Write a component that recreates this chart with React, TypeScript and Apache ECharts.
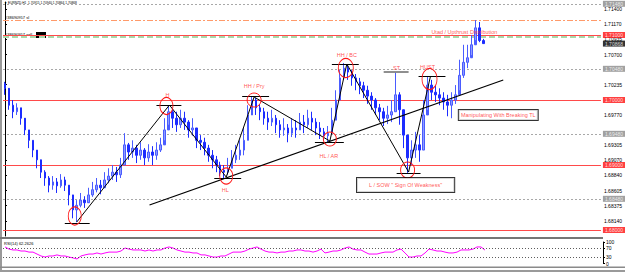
import React, { useEffect, useRef } from "react";
import * as echarts from "echarts";

// ---------- DATA ----------
const symbolHeader = "▼ EURNZD,H1  1.70915 1.70940 1.70864 1.70868";
const rsiHeader = "RSI(14) 62.2626";
const slotCount = 150;
const firstOpen = 1.7025;

const closes = [
  1.7018, 1.6992, 1.6982, 1.6988, 1.6972, 1.6954, 1.6938, 1.6923, 1.6908, 1.6889,
  1.6880, 1.6869, 1.6874, 1.6868, 1.6877, 1.6869, 1.6854, 1.6831, 1.6838, 1.6846,
  1.6842, 1.6854, 1.6862, 1.6869, 1.6865, 1.6877, 1.6883, 1.6889, 1.6885, 1.6900,
  1.6931, 1.6920, 1.6926, 1.6915, 1.6923, 1.6911, 1.6920, 1.6915, 1.6923, 1.6931,
  1.6954, 1.6982, 1.6972, 1.6962, 1.6972, 1.6966, 1.6954, 1.6957, 1.6938, 1.6935,
  1.6926, 1.6915, 1.6908, 1.6900, 1.6892, 1.6889, 1.6895, 1.6908, 1.6915, 1.6923,
  1.6938, 1.6977, 1.7000, 1.6988, 1.6982, 1.6972, 1.6966, 1.6972, 1.6962, 1.6954,
  1.6957, 1.6949, 1.6957, 1.6954, 1.6966, 1.6962, 1.6972, 1.6966, 1.6957, 1.6951,
  1.6945, 1.6949, 1.6969, 1.7000, 1.7034, 1.7049, 1.7043, 1.7034, 1.7028, 1.7022,
  1.7015, 1.7006, 1.7000, 1.6988, 1.6982, 1.6972, 1.6977, 1.6982, 1.7008, 1.6985,
  1.6946, 1.6911, 1.6923, 1.6931, 1.6923, 1.6977, 1.7023, 1.7012, 1.7008, 1.7003,
  1.6997, 1.6992, 1.7000, 1.7008, 1.7038, 1.7058, 1.7065, 1.7085, 1.7111, 1.70915,
  1.70868,
];
const highs = [
  1.7028, 1.7008, 1.7000, 1.6995, 1.6988, 1.6969, 1.6954, 1.6938, 1.6923, 1.6905,
  1.6892, 1.6883, 1.6883, 1.6880, 1.6886, 1.6882, 1.6869, 1.6849, 1.6846, 1.6857,
  1.6852, 1.6865, 1.6874, 1.6880, 1.6877, 1.6889, 1.6895, 1.6900, 1.6897, 1.6911,
  1.6949, 1.6934, 1.6938, 1.6931, 1.6935, 1.6926, 1.6932, 1.6929, 1.6935, 1.6942,
  1.6972, 1.6992, 1.6988, 1.6982, 1.6985, 1.6982, 1.6969, 1.6972, 1.6954, 1.6946,
  1.6942, 1.6931, 1.6923, 1.6914, 1.6905, 1.6900, 1.6911, 1.6923, 1.6931, 1.6938,
  1.6957, 1.6992, 1.7006, 1.7003, 1.6994, 1.6988, 1.6982, 1.6985, 1.6977, 1.6969,
  1.6972, 1.6963, 1.6972, 1.6969, 1.6980, 1.6977, 1.6985, 1.6982, 1.6972, 1.6966,
  1.6957, 1.6960, 1.6988, 1.7015, 1.7046, 1.7057, 1.7054, 1.7046, 1.7040, 1.7034,
  1.7028, 1.7022, 1.7012, 1.7003, 1.6994, 1.6988, 1.6991, 1.7000, 1.7042, 1.7012,
  1.6982, 1.6938, 1.6938, 1.6951, 1.6946, 1.7000, 1.7037, 1.7031, 1.7022, 1.7018,
  1.7012, 1.7008, 1.7012, 1.7023, 1.7062, 1.7085, 1.7085, 1.7100, 1.7123, 1.7120,
  1.7094,
];
const lows = [
  1.7008, 1.6985, 1.6972, 1.6977, 1.6962, 1.6946, 1.6926, 1.6912, 1.6895, 1.6880,
  1.6868, 1.6858, 1.6862, 1.6857, 1.6865, 1.6860, 1.6838, 1.6818, 1.6812, 1.6835,
  1.6834, 1.6843, 1.6851, 1.6858, 1.6855, 1.6866, 1.6872, 1.6877, 1.6874, 1.6880,
  1.6900, 1.6908, 1.6911, 1.6903, 1.6908, 1.6900, 1.6905, 1.6900, 1.6908, 1.6920,
  1.6938, 1.6962, 1.6957, 1.6951, 1.6957, 1.6954, 1.6942, 1.6945, 1.6926, 1.6923,
  1.6915, 1.6905, 1.6895, 1.6889, 1.6883, 1.6880, 1.6885, 1.6895, 1.6903, 1.6908,
  1.6915, 1.6938, 1.6982, 1.6977, 1.6969, 1.6962, 1.6954, 1.6960, 1.6949, 1.6942,
  1.6945, 1.6935, 1.6943, 1.6942, 1.6954, 1.6949, 1.6957, 1.6954, 1.6946, 1.6940,
  1.6937, 1.6935, 1.6946, 1.6977, 1.7008, 1.7031, 1.7031, 1.7022, 1.7015, 1.7009,
  1.7003, 1.6994, 1.6985, 1.6977, 1.6969, 1.6960, 1.6963, 1.6966, 1.6982, 1.6962,
  1.6926, 1.6888, 1.6900, 1.6911, 1.6905, 1.6923, 1.6985, 1.7000, 1.6997, 1.6992,
  1.6985, 1.6975, 1.6972, 1.6994, 1.7015, 1.7034, 1.7049, 1.7069, 1.7092, 1.7089,
  1.70864,
];
const rsiValues = [
  77, 67, 63, 63, 58, 58, 53, 53, 44, 35,
  30, 35, 35, 40, 35, 35, 30, 26, 21, 35,
  40, 44, 44, 49, 44, 49, 53, 53, 53, 58,
  72, 67, 63, 63, 63, 58, 63, 58, 63, 63,
  72, 77, 72, 63, 58, 53, 53, 49, 49, 40,
  40, 35, 30, 30, 35, 35, 44, 53, 53, 53,
  58, 67, 72, 77, 67, 58, 53, 53, 49, 53,
  53, 58, 58, 63, 63, 58, 58, 53, 58, 67,
  49, 53, 58, 58, 63, 72, 77, 67, 63, 63,
  53, 44, 44, 44, 49, 53, 53, 53, 63, 67,
  49, 30, 30, 35, 35, 49, 67, 63, 58, 58,
  53, 49, 49, 53, 63, 63, 63, 67, 77, 77,
  62.26,
];

const priceMin = 1.67908;
const priceMax = 1.71508;
const priceTicks = [
  1.714, 1.7117, 1.70935, 1.707, 1.70235, 1.6977,
  1.69305, 1.6907, 1.6884, 1.68605, 1.68375, 1.6814, 1.67905,
];
const rsiTicks = [0, 30, 70, 100];
const rsiLevels = [70, 30];

const roundLevels = [1.71, 1.7, 1.69, 1.68];
const gridLevels = [1.7148, 1.7048, 1.6948, 1.6848];
const stopLossLevel = 1.71231;
const sellLevel = 1.70974;
const lastPrice = 1.70868;
const orderLabels = ["#38690957 sl", "#38690957 sell"];

// annotations: [bar index, price]
const zigzag = [
  [18, 1.68123], [41.25, 1.69923], [55.5, 1.68815], [62.5, 1.70046],
  [81.5, 1.69369], [85.75, 1.70554], [101.25, 1.68892], [106.75, 1.70369],
];
const trendLine = [[36.25, 1.68385], [125, 1.70308]];
const pivotFrom = [15, 38, 52.5, 59.5, 77.75, 82, 95, 98.25, 103.75];
const pivotTo = [21.25, 44.25, 59.25, 66.25, 85, 88.75, 101.25, 104.25, 110.5];
const pivotPrice = [1.6811, 1.6992, 1.688, 1.7006, 1.6935, 1.7055, 1.7043, 1.6888, 1.7037];
const ringX = [17.5, 40.5, 55.5, 62.5, 81.5, 85.5, 101, 106.5];
const ringPrice = [1.68215, 1.69908, 1.68831, 1.7, 1.694, 1.70492, 1.68923, 1.70323];
const tagText = ["H", "HL", "HH / Pry", "HL / AR", "HH / BC", "ST", "HUST", "Utad / Upthrust Distribution"];
const tagX = [40.75, 55.25, 62.5, 81.25, 85.75, 98.25, 106, 115.25];
const tagPrice = [1.70077, 1.68615, 1.70215, 1.69138, 1.70692, 1.70492, 1.70508, 1.71046];
const boxText = ["Manipulating With Breaking TL", 'L / SOW " Sign Of Weakness"'];
const boxX = [123.75, 100.5];
const boxPrice = [1.69769, 1.68692];

export default function App() {
  const ref = useRef<HTMLDivElement>(null);
  useEffect(() => {
    const chart = echarts.init(ref.current!, null, { renderer: "svg" });
    const font = "Liberation Sans";
    const red = "#ff1f1f";
    const xLeft = -0.5;
    const xRight = slotCount - 0.5;
    const slots = Array.from({ length: slotCount }, (_, i) => String(i));
    const candles = closes.map((c, i) => [i === 0 ? firstOpen : closes[i - 1], c, lows[i], highs[i]]);
    const ringSizes = [[13, 18], [13, 17], [13, 16], [14, 14], [13, 14], [15, 19], [14, 16], [15, 21]];
    const boxPad = [[2, 2], [4, 12]];

    const hLine = (v: number, lineStyle: any) => ({ coords: [[xLeft, v], [xRight, v]], lineStyle });
    const levelLines = [
      ...gridLevels.map((v) => hLine(v, { color: "#a8a8a8", width: 1, type: [2, 2] })),
      hLine(stopLossLevel, { color: "#ff9a6a", width: 1, type: [6, 2, 2, 2] }),
      hLine(sellLevel, { color: "#a9d8a9", width: 2, type: [6, 3] }),
      ...roundLevels.map((v) => hLine(v, { color: "#ff4a4a", width: 1, type: "solid" })),
    ];
    const priceBox = (v: number, bg: string) => ({
      value: [xRight, v],
      label: { backgroundColor: bg, formatter: v.toFixed(5) },
    });
    const priceBoxes = [
      ...gridLevels.map((v) => priceBox(v, "#8a8a8a")),
      ...roundLevels.map((v) => priceBox(v, "#ff1010")),
      priceBox(lastPrice, "#000"),
    ];

    const option: any = {
      animation: false,
      textStyle: { fontFamily: font },
      grid: [
        { left: 3, top: 2, width: 600, height: 234 },
        { left: 3, top: 242, width: 600, height: 21.5 },
      ],
      xAxis: [
        { type: "category", data: slots, gridIndex: 0, show: false, boundaryGap: true },
        { type: "value", gridIndex: 0, min: xLeft, max: xRight, show: false },
        { type: "category", data: slots, gridIndex: 1, show: false, boundaryGap: true },
      ],
      yAxis: [
        {
          type: "value", gridIndex: 0, position: "right", min: priceMin, max: priceMax, scale: true,
          splitLine: { show: false },
          axisLine: { show: true, lineStyle: { color: "#000", width: 1 } },
          axisTick: { show: true, length: 2, customValues: priceTicks, lineStyle: { color: "#000" } },
          axisLabel: {
            customValues: priceTicks, fontSize: 5, color: "#000", margin: 3, fontFamily: font,
            formatter: (v: number) => v.toFixed(5),
          },
        },
        {
          type: "value", gridIndex: 1, position: "right", min: 0, max: 100,
          splitLine: { show: false },
          axisLine: { show: true, lineStyle: { color: "#000", width: 1 } },
          axisTick: { show: true, length: 2, customValues: rsiTicks, lineStyle: { color: "#000" } },
          axisLabel: { customValues: rsiTicks, fontSize: 5, color: "#000", margin: 3, fontFamily: font },
        },
      ],
      series: [
        {
          type: "lines", coordinateSystem: "cartesian2d", xAxisIndex: 1, yAxisIndex: 0, silent: true,
          data: levelLines, lineStyle: { opacity: 1 }, z: 1,
        },
        {
          type: "candlestick", xAxisIndex: 0, yAxisIndex: 0, data: candles, barWidth: 2, z: 2,
          itemStyle: { color: "#8f9cff", borderColor: "#4a5cff", color0: "#1c2cff", borderColor0: "#1c2cff", borderWidth: 1 },
        },
        {
          type: "lines", coordinateSystem: "cartesian2d", xAxisIndex: 1, yAxisIndex: 0, polyline: true, silent: true,
          data: [{ coords: zigzag }], z: 3,
          lineStyle: { color: "#000", width: 1, opacity: 1 },
        },
        {
          type: "lines", coordinateSystem: "cartesian2d", xAxisIndex: 1, yAxisIndex: 0, silent: true,
          data: [{ coords: trendLine }], z: 3,
          lineStyle: { color: "#000", width: 1.2, opacity: 1 },
        },
        {
          type: "lines", coordinateSystem: "cartesian2d", xAxisIndex: 1, yAxisIndex: 0, silent: true, z: 3,
          data: pivotFrom.map((f, i) => ({
            coords: [[f, pivotPrice[i]], [pivotTo[i], pivotPrice[i]]],
            lineStyle: { color: i === 6 ? "#6a6a6a" : "#000", width: i === 6 ? 1.5 : 1 },
          })),
          lineStyle: { color: "#000", width: 1, opacity: 1 },
        },
        {
          type: "scatter", xAxisIndex: 1, yAxisIndex: 0, silent: true, symbol: "circle", z: 4,
          data: ringX.map((x, i) => ({ value: [x, ringPrice[i]], symbolSize: ringSizes[i] })),
          itemStyle: { color: "transparent", borderColor: "#ff1a1a", borderWidth: 1, opacity: 1 },
        },
        {
          type: "scatter", xAxisIndex: 1, yAxisIndex: 0, silent: true, symbolSize: 1, z: 5,
          itemStyle: { color: "transparent" },
          data: tagX.map((x, i) => ({ value: [x, tagPrice[i]], name: tagText[i] })),
          label: { show: true, position: "inside", formatter: "{b}", color: red, fontSize: 5.5, fontFamily: font },
        },
        {
          type: "scatter", xAxisIndex: 1, yAxisIndex: 0, silent: true, symbolSize: 1, z: 5,
          itemStyle: { color: "transparent" },
          data: boxX.map((x, i) => ({
            value: [x, boxPrice[i]], name: boxText[i],
            label: { padding: boxPad[i] },
          })),
          label: {
            show: true, position: "inside", formatter: "{b}", color: red, fontSize: 5.5, fontFamily: font,
            backgroundColor: "#fff", borderColor: "#000", borderWidth: 1,
          },
        },
        {
          type: "scatter", xAxisIndex: 1, yAxisIndex: 0, silent: true, symbolSize: 0, clip: false, z: 6,
          itemStyle: { color: "transparent" },
          data: priceBoxes,
          label: {
            show: true, position: "right", distance: 2, color: "#fff", fontSize: 5, fontFamily: font,
            padding: [1, 2, 0, 2],
          },
          labelLayout: { hideOverlap: false },
        },
        {
          type: "line", xAxisIndex: 2, yAxisIndex: 1, data: rsiValues, symbol: "none", silent: true,
          lineStyle: { color: "#ff00ff", width: 1 },
          markLine: {
            silent: true, symbol: ["none", "none"], label: { show: false },
            data: rsiLevels.map((v) => ({ yAxis: v })),
            lineStyle: { color: "#333", width: 0.8, type: [1, 2] },
          },
        },
      ],
      graphic: [
        { type: "rect", shape: { x: 0, y: 0, width: 2, height: 272 }, style: { fill: "#9a9a9a" }, silent: true },
        { type: "rect", shape: { x: 0, y: 237, width: 603, height: 2 }, style: { fill: "#767676" }, silent: true },
        { type: "rect", shape: { x: 0, y: 266.5, width: 625, height: 1.5 }, style: { fill: "#8a8a8a" }, silent: true },
        { type: "rect", shape: { x: 0, y: 270, width: 625, height: 2 }, style: { fill: "#9a9a9a" }, silent: true },
        { type: "text", x: 4, y: 1.5, style: { text: symbolHeader, fontSize: 3.2, fill: "#000", fontFamily: font }, silent: true },
        { type: "text", x: 5, y: 15, style: { text: orderLabels[0], fontSize: 4, fill: "#000", fontFamily: font }, silent: true },
        { type: "text", x: 5, y: 32, style: { text: orderLabels[1], fontSize: 4, fill: "#000", fontFamily: font }, silent: true },
        { type: "rect", shape: { x: 36, y: 32, width: 10, height: 6 }, style: { fill: "#000" }, silent: true },
        { type: "text", x: 4, y: 241, style: { text: rsiHeader, fontSize: 4, fill: "#000", fontFamily: font }, silent: true },
      ],
    };
    chart.setOption(option);
    return () => chart.dispose();
  }, []);
  return (
    <div
      ref={ref}
      style={{ position: "absolute", left: 0, top: 0, width: 625, height: 272, background: "#fff" }}
    />
  );
}
